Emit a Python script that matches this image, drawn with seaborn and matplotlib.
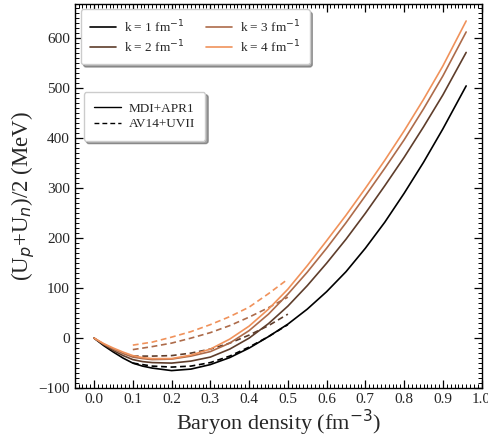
import numpy as np
import pandas as pd
import seaborn as sns
import matplotlib
matplotlib.use("Agg")
import matplotlib.pyplot as plt
from matplotlib.lines import Line2D
from matplotlib.ticker import MultipleLocator

# ---- data ----
k_labels = ["k = 1 fm$^{-1}$", "k = 2 fm$^{-1}$", "k = 3 fm$^{-1}$", "k = 4 fm$^{-1}$"]

x_solid = [0.0, 0.025, 0.05, 0.075, 0.10, 0.125, 0.15, 0.20, 0.25, 0.30, 0.35, 0.40, 0.45,
           0.50, 0.55, 0.60, 0.65, 0.70, 0.75, 0.80, 0.85, 0.90, 0.96]
mdi_k1 = [0, -15, -28, -40, -50, -56, -60, -65, -62, -53, -39, -20, 3,
          28, 58, 93, 133, 180, 232, 290, 352, 419, 505]
mdi_k2 = [0, -13, -25, -35, -43, -47, -49, -50, -46, -38, -22, 0, 29,
          64, 105, 150, 198, 250, 305, 362, 423, 487, 572]
mdi_k3 = [0, -12, -22, -31, -38, -41, -43, -42, -36, -27, -10, 15, 48,
          88, 132, 180, 231, 285, 340, 397, 459, 525, 613]
mdi_k4 = [0, -11, -20, -28, -35, -39, -41, -41, -34, -22, -2, 24, 58,
          98, 145, 195, 246, 300, 356, 415, 478, 545, 635]

x_dash = [0.10, 0.15, 0.20, 0.25, 0.30, 0.35, 0.40, 0.45, 0.50]
av_k1 = [-50, -56, -58, -56, -49, -36, -18, 3, 27]
av_k2 = [-36, -36, -35, -30, -22, -10, 6, 25, 48]
av_k3 = [-23, -17, -10, 0, 11, 25, 42, 61, 82]
av_k4 = [-14, -8, 2, 13, 27, 43, 62, 89, 118]

models = ["MDI+APR1", "AV14+UVII"]
colors = ["#000000", "#5e3d2b", "#ad6b4a", "#f0925b"]

rows = []
for lab, ys in zip(k_labels, [mdi_k1, mdi_k2, mdi_k3, mdi_k4]):
    for x, y in zip(x_solid, ys):
        rows.append((lab, models[0], x, y))
for lab, ys in zip(k_labels, [av_k1, av_k2, av_k3, av_k4]):
    for x, y in zip(x_dash, ys):
        rows.append((lab, models[1], x, y))
df = pd.DataFrame(rows, columns=["k", "model", "n", "U"])

# ---- style ----
sns.set_style("white")
plt.rcParams["font.family"] = ["Liberation Serif", "DejaVu Serif"]
plt.rcParams["mathtext.fontset"] = "dejavusans"

fig = plt.figure(figsize=(4.88, 4.38), dpi=100)
ax = fig.add_axes([0.153, 0.114, 0.834, 0.878])

palette = dict(zip(k_labels, colors))
sns.lineplot(data=df, x="n", y="U", hue="k", style="model", palette=palette,
             dashes={models[0]: "", models[1]: (3.5, 2.2)}, estimator=None,
             sort=False, legend=False, lw=1.2, ax=ax)

ax.set_xlim(-0.05, 1.0)
ax.set_ylim(-100, 670)
ax.set_xticks(np.arange(0, 1.01, 0.1))
ax.set_xticklabels([f"{v:.1f}" for v in np.arange(0, 1.01, 0.1)])
ax.xaxis.set_minor_locator(MultipleLocator(0.01))
ax.yaxis.set_major_locator(MultipleLocator(100))
ax.yaxis.set_minor_locator(MultipleLocator(10))
ax.tick_params(which="both", direction="in", top=True, right=True,
               bottom=True, left=True, labelsize=11, color="black")
ax.tick_params(which="major", length=6, width=0.9)
ax.tick_params(which="minor", length=3, width=0.7)
for s in ax.spines.values():
    s.set_color("black")
    s.set_linewidth(1.0)

ax.set_xlabel("Baryon density (fm$^{-3}$)", fontsize=16, labelpad=1)
ax.set_ylabel("(U$_p$+U$_n$)/2 (MeV)", fontsize=16.5, labelpad=1)

h1 = [Line2D([], [], color=c, lw=1.2) for c in colors]
leg1 = ax.legend(h1, k_labels, ncol=2, loc="upper left",
                 bbox_to_anchor=(0.015, 0.985), fontsize=9.5, frameon=True,
                 fancybox=True, shadow=True, columnspacing=1.6,
                 handlelength=2.0, handletextpad=0.6, borderpad=0.7,
                 labelspacing=0.25, borderaxespad=0)
leg1.get_frame().set_edgecolor("#cccccc")
ax.add_artist(leg1)

h2 = [Line2D([], [], color="black", lw=1.0),
      Line2D([], [], color="black", lw=1.0, ls=(0, (3.5, 2.2)))]
leg2 = ax.legend(h2, models, loc="upper left", bbox_to_anchor=(0.022, 0.77),
                 fontsize=9.5, frameon=True, fancybox=True, shadow=True,
                 handlelength=2.0, handletextpad=0.6, borderpad=0.8,
                 labelspacing=0.25, borderaxespad=0)
leg2.get_frame().set_edgecolor("#cccccc")

fig.savefig("out.png", dpi=100)
